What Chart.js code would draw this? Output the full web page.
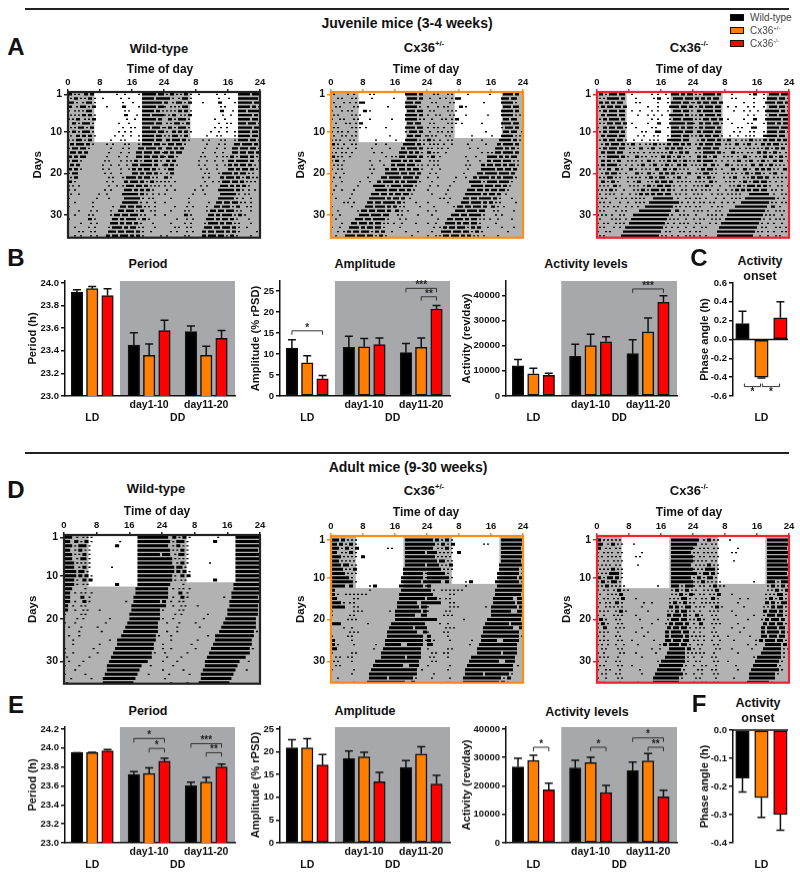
<!DOCTYPE html>
<html>
<head>
<meta charset="utf-8">
<title>Juvenile and adult mice activity</title>
<script src="https://cdn.jsdelivr.net/npm/chart.js@4/dist/chart.umd.min.js"></script>
<style>
  html, body { margin: 0; padding: 0; background: #fff; }
  #page { position: relative; width: 800px; height: 876px; overflow: hidden; font-family: "Liberation Sans", Arial, sans-serif; color: #111; }
  #page canvas { position: absolute; }
  .lbl { position: absolute; transform: translate(-50%, -50%); white-space: nowrap; font-weight: bold; line-height: 1; }
  .rule { position: absolute; left: 25px; width: 764px; height: 2px; background: #222; }
  .swatch { position: absolute; left: 730px; width: 12px; height: 5px; border: 1.5px solid #111; }
  .leg { position: absolute; left: 750px; font-size: 10px; color: #444; line-height: 1; transform: translateY(-50%); }
  sup { font-size: 60%; line-height: 0; }
</style>
</head>
<body>
<div id="page"></div>
<script>
// --- Colours ---
const groupColors = ['#000000', '#ff8000', '#ff0000'];
const ddGray = '#a6a8ab';
const actoGray = '#b2b2b2';

// --- Bar data: LD, DD day1-10, DD day11-20 (WT, het, KO) ---
const periodB = [23.92, 23.95, 23.89, 23.45, 23.36, 23.58, 23.57, 23.36, 23.51];
const periodBErr = [23.94, 23.97, 23.95, 23.56, 23.46, 23.67, 23.62, 23.44, 23.58];
const amplitudeB = [11.4, 7.9, 4.1, 11.6, 11.7, 12.2, 10.3, 11.6, 20.7];
const amplitudeBErr = [13.4, 9.6, 4.9, 14.2, 13.7, 13.8, 12.5, 13.8, 21.5];
const activityB = [12000, 8800, 8200, 15800, 20000, 21500, 16800, 25500, 37200];
const activityBErr = [14500, 11000, 9000, 20500, 24500, 23500, 22300, 31000, 39800];
const onsetC = [0.17, -0.40, 0.23];
const onsetCErr = [0.30, -0.41, 0.40];

const periodE = [23.95, 23.95, 23.97, 23.72, 23.73, 23.86, 23.60, 23.64, 23.80];
const periodEErr = [23.95, 23.955, 23.985, 23.75, 23.79, 23.89, 23.64, 23.69, 23.83];
const amplitudeE = [20.9, 20.9, 17.1, 18.5, 18.9, 13.4, 16.5, 19.5, 12.9];
const amplitudeEErr = [22.7, 22.9, 19.4, 20.2, 19.9, 15.5, 18.1, 21.1, 14.8];
const activityE = [26700, 29000, 18600, 26300, 28200, 17700, 25400, 28800, 16200];
const activityEErr = [29700, 30800, 21000, 29000, 30100, 20200, 28400, 31400, 18500];
const onsetF = [-0.17, -0.24, -0.30];
const onsetFErr = [-0.22, -0.31, -0.355];

// --- Significance brackets: first bar, last bar, height, stars ---
const amplitudeBBrackets = [[0, 2, 15.5, '*'], [6, 8, 25.6, '***'], [7, 8, 23.6, '**']];
const activityBBrackets = [[6, 8, 42500, '***']];
const onsetCBrackets = [[0.1, 0.95, -0.5, '*'], [1.05, 1.95, -0.5, '*']];
const periodEBrackets = [[3, 5, 24.1, '*'], [4, 5, 23.995, '*'], [6, 8, 24.045, '***'], [7, 8, 23.95, '**']];
const activityEBrackets = [[1, 2, 33600, '*'], [4, 5, 33600, '*'], [6, 8, 36900, '*'], [7, 8, 33600, '**']];

// --- Axis ticks ---
const groupTicks = [['', 'LD'], ['day1-10', ''], ['', 'DD'], ['day11-20', '']];
const singleTicks = [['', 'LD']];
const dayTicks = [1, 10, 20, 30];
const periodBTicks = [23.0, 23.2, 23.4, 23.6, 23.8, 24.0];
const periodETicks = [23.0, 23.2, 23.4, 23.6, 23.8, 24.0, 24.2];
const amplitudeTicks = [0, 5, 10, 15, 20, 25];
const activityTicks = [0, 10000, 20000, 30000, 40000];
const onsetCTicks = [-0.6, -0.4, -0.2, 0.0, 0.2, 0.4, 0.6];
const onsetFTicks = [-0.4, -0.3, -0.2, -0.1, 0.0];

// --- Actograms: one string per day, one character per half hour, # = wheel running ---
const actoA1 = [
  '##.#.#.. ##.##... ........ #...#... ...#.### ####.###',
  '.#.##.#. #.##.#.. .#...... ..#...#. .....### ###.####',
  '###.#..# .###.#.. ........ ...#.... #....### #######.',
  '##..#.## #.#.##.. ...#.... ...##... ...#.### ####.###',
  '#..#.#.# .###.... ........ ....#.#. .....### ###.##.#',
  '.#.#.#.# #.##.#.. ........ ....##.. ..#..### #.######',
  '#.#.##.. #.#.##.. ........ .....#.. .#...### ####.##.',
  '..##.#.# ###.#... ........ .#....#. .....### ###.###.',
  '.#.#.### .#.##... ........ ...#...# .#...### #.####.#',
  '#.##.#.# ###.#... ........ .#..#..# .....### ####.###',
  '.#..##.# #.##.#.. .......# ...#...# ...#.### ###.###.',
  '#.#.###. #.##.... .....#.. ..#.#... ...#.### ###.###.',
  '.##.#### .##.#... ...#..#. ....#.#. ...#.### ##.###.#',
  '#.###.## #.#..... .....#.. ...#..#. ...###.# ####.##.',
  '.###.##. ##...... ....#... ..#...#. ..###.## ##.###.#',
  '##.##.## #....... ...#.... .#...#.. ..###.## #.###.##',
  '#.###.#. ........ ..#.#... ..#..#.# .##.#.## ##.##.#.',
  '.##.##.. ........ .#...#.. .#...#.. ###.#### ##.##..#',
  '##.##.#. ........ .#..#... ..#...#. ##.##.## #.##.#..',
  '#.###... ........ ..#..#.. ..#..... ###.##.# ##.##.#.',
  '.#.##... ........ ....#.#. ...#.### ##.##.## #.#.#...',
  '##.#.... ........ ...#..#. ....##.# ###.##.# .##.#.#.',
  '#.#..#.. ........ ....#... #..#.### #.###.## .#.#.#..',
  '#..#.... ........ ..#..#.. ....#### .##.##.# #.#.....',
  '.#...#.. .......# ...#.... ...##### ###.##.# ..#..#..',
  '#....... ......#. ....#... ....#### ####.#.. #.#.....',
  '...#.... ....#... ........ ...##### ###.#..# ...#....',
  '#....... ....#... ......#. ..###.## #.###.#. #..#....',
  '.....#.. ...#..#. .....#.. .###.### #.#.##.. .#.#....',
  '...#.... ..#.#... .....#.# ##.###.# ###.#.#. ...#....',
  '#....... ..##.#.. ......## #.##.### ##.#.##. #.......',
  '......#. ...#..#. .....### #.##.### .##.#... ..#.....',
  '...#.... ..#..#.. ....#.## ###.##.# ##.#.#.. ...#....',
  '.....#.# ...#.#.. ....#### .###.### #.##.#.. .#......',
  '...#..#. ...#..#. ...##.## #.####.# #.##.#.. ......#.',
  '.#...... ..#.#... ...##.## ##.###.# .##.#... ...#....',
];
const actoA2 = [
  '.#...... #..#.... ...#.#.. ........ .....### ###.##..',
  '...#.#.. ..#.#... ....#... .......# ......## ###.##..',
  '.#....#. .#..#.## #....... ........ .....### #.###...',
  '..#.#... ...#.#.. ........ ....#... .....### ###.#...',
  '#....#.. #.#..... ##.#.... ........ ......## ##.###..',
  '.#.#.... ..#.#.#. ........ ........ .....### ###.##..',
  '#...#.#. ...#.#.. ...#.... ......#. .....### ###.#.#.',
  '..#....# .#..#.## ........ ........ ......## #.###...',
  '.#.#.... ..#.#.#. .#...... ...#.... .....### ##.###..',
  '#..#.#.. #...#... ........ ........ .....#.# ###.##..',
  '.#...#.# ..#.#... ........ .....#.. ......## #.###..#',
  '#.#.#... .#.#.... ......#. ........ #....### ###.#.#.',
  '##.#..#. ..#.#... ......#. ...#.... ....#### ##.##.#.',
  '.#.#.#.. #...#... ....#... .....#.. ...##.## ###.##..',
  '#.#..#.# ..#..... .....#.. .#...... ..####.# #.##.#..',
  '##.#.#.. .#...... ........ ...#..#. #.###.## ###.##..',
  '#.##..#. ........ ...#.... #.....## ###.##.# #.###...',
  '.#.#.#.. ........ ....#... ..#...## .####.## ##.#.#..',
  '#..#.#.. ........ ...#.#.. ...##.## #.###.## .###.#..',
  '..#...#. ........ ....#... ...##### ##.###.# ##.##...',
  '.#..#... ........ ..#..... .###.### ###.#### #.##....',
  '#....#.. ......#. ...#...# #.#####. ##.##.## ###.#...',
  '..#..... .....#.. .....### ###.#.## ###.#### #.#.....',
  '.#...#.. ...#.... ......## ####.### #.###.## .#......',
  '#....... ..#..... ....#### .###.##. ###.###. #.......',
  '..#..... .#...... ...##### ###.##.# ##.##..# ........',
  '......#. #..#.... ..###.## #.###### .##.#... ..#.....',
  '#....... ..#..... .####.## ###.##.# #.#.#... ....#...',
  '...#.... .....#.# ##.###.# ###.##.. ##.#..#. ........',
  '#...#... ......## ###.#### #.###... .#.#.... ...#....',
  '..#..... ....#### .###.### ###.#... ..#..#.. ........',
  '.....#.. ..###.## ##.##.## #.#.#..# ...#.... ..#.....',
  '#...#... .#####.# #.###.## #.#..... ..#..... ........',
  '...#..#. ##.###.# ###.#.## .##...#. .....#.. ...#....',
  '..#....# ####.### #.###.#. ##.#.... ........ #.......',
  '#...#.#. ###.#### .##.##.# .#..#... ...#.... ........',
];
const actoA3 = [
  '.##.#.## ##.###.. .#...... ...#..#. ..#..### #.##.###',
  '.#.#.### ###.##.. ...#.... ....#.## ...#..## ###.####',
  '.##.##.# #.###... ...#.#.. ......#. ...#.### ##.###.#',
  '#.##.### .###.##. ........ .#....#. ....#### #.###.##',
  '.#.##.## ##.###.. .#...#.. ...#..#. ...#..## ##.###.#',
  '..##.### ##.###.. ....#... .#..#... #...#### ###.##.#',
  '.#.##.## ###.##.. ........ ...#..#. ....#.## ##.#####',
  '.#.#.### .###.##. .#...... .#....## ....#### ####.###',
  '#..##.## #.###.#. ...#.... ...#.#.. ...#.### #.##.###',
  '.#.##.## ###.##.. ......#. #....### .....### ###.####',
  '..##.### ##.###.. ....#..# ....#.#. ...#.### ##.###.#',
  '.#.##.## #.###.#. ..#...#. ..#.#.#. ...##### ##.###..',
  '..#.##.# ###.##.# .##..#.. #.#.##.# .#.##.## #.##.##.',
  '.#.##.## ##.###.. #.#..##. .#.##..# ..##.##. ###.#.#.',
  '..##.### #.###... #.#.#..# ..#.#.#. #.#.##.# .##.##..',
  '.#.#.### ###.##.# ...##.#. #..#.#.. ##.##.#. ##.#..#.',
  '..##.##. #.##...# .#.#..#. .##.#..# .#.##.## .#.##.#.',
  '#.##.### ##.#..#. .#..#.## ..#.##.. #.##.#.. ##.##..#',
  '.#.#.##. .##.#... ##.#..#. #.#..##. .##.#.## .#.#.#..',
  '..#.##.# ##.#..#. ...##.#. .##.#..# #.##.##. #.#..##.',
  '.#.#.### .#.#...# .#.#.#.. #.##.#.# ##.#..#. ##..#...',
  '..##.#.# #.#....# ..#.##.. .#.#.##. ###.##.. #.#.#.#.',
  '.#.#.#.. ##.#.... #.#.#..# .##.#.## #.###.#. .#..#...',
  '#.#.#.## .#...#.. ..#.#.## .#.####. ##.##.#. ..#.#..#',
  '.#..#.#. #...#... #..#.##. ##.##.## #.###..# .#..#...',
  '#.#.#... .#..#.#. .#.#.#.# ....#### ######.. #...#.#.',
  '.#.#..#. ...#...# ...#.#.# ..###### ######## #.#..#..',
  '#..#.#.. #.#...#. .#..#... ######## ######.# .#..#.#.',
  '.#.#.... .#..#.#. .....### ######## #####..# #..#....',
  '#.#.#..# ...#.#.. ..###### ######## ####.#.. .#.#.#..',
  '.#.....# .#.#..#. .####### ######## ###.#.#. #...#...',
  '#..#.#.. .#.#.#.. ######## ######## ##.#..#. .#.#.#..',
  '.#.#.... #..#..## ######## ######## #.#..#.. #...#...',
  '#...#.#. .....### ######## ######## ..#.#... .#.#..#.',
  '.#.#.... ....#### ######## #######. #.#..#.. #...#.#.',
  '#..#..#. ....#### ######## ######.. .#...#.. .#.#....',
];
const actoD1 = [
  '####..#. .#.#.#.. ........ ........ ....#### ########',
  '###..##. #.##.#.. ........ ...#.... ....#### ########',
  '####.#.# ###.#... ........ .##..... ....#### ########',
  '###..#.# #.#.#... ........ ........ ....#### ########',
  '####.#.# .##.#... ........ ........ ....#### #######.',
  '####..#. ###.#... ........ ........ ....#### ########',
  '#####.#. #.#.#... ........ ........ ....#### ########',
  '#####..# .##.#... .......# ........ ....#### ########',
  '######.# ##.#.... ........ ........ ....#### ########',
  '######.# #.##.#.. ........ ........ ....#### ########',
  '#####.#. .##.##.. ........ ........ ....#### ########',
  '#####.#. .#.#.... ........ .##..... ....#### ########',
  '####.... ..#..... ........ ........ ...##### ########',
  '###..#.. #.#..#.. ........ ........ ...##### ########',
  '###..... ##..#... ........ ........ ..###### ########',
  '###..#.. .##.#... ........ ......#. ..###### #######.',
  '##..#... #.#..... ........ ........ .####### ########',
  '##...#.. .#.#.... .#...... ........ .####### #######.',
  '#....... #.#..... ........ ........ ######## #######.',
  '......#. .#...... ......#. ........ ######## #######.',
  '#....#.. ........ ....#... .......# ######## ######..',
  '..#..... #....... #....... ......## ######## ######..',
  '.......# ........ ..#..... .....### ######## ######..',
  '..#....# ........ ........ ....#### ######## #####.#.',
  '....#... ........ ......#. ..###### ######## #####...',
  '....#... ........ .#...... ..###### ######## ####....',
  '#....... ......#. ........ .####### ######## ####....',
  '#...#... ........ #....... ######## ######## ###.#...',
  '.#...... ....#... .......# ######## ######## ###.....',
  '..#..... .#...... ......## ######## ######## #.......',
  '#......# ........ .....### ######## ######.. ..#.....',
  '.....#.. ........ .....### ######## #####... ........',
  '#....... ..#..... ....#### ######## ####.... .#......',
  '...#.... .....#.. ...##### ######## ###..... ........',
  '.#...... ........ ...##### ######## ##...... ........',
  '....#... ....#... ..###### ######## #....... ........',
];
const actoD2 = [
  '####.##. #.#.#... ........ ........ .....### ########',
  '###.##.# .##.#... ........ ........ .....### ########',
  '####.#.# #.#.##.. ........ ....#.#. .....### ########',
  '###..#.# .##.#... ........ ........ .....### #######.',
  '#####.#. #.#.#..# #....... ........ .....### ########',
  '####.#.# .#.#.... ........ ........ .....### ########',
  '#####.## #.#.#... ........ ........ .....### #######.',
  '######.# .#.##... ........ ........ ....#### ########',
  '#######. #.#.#... ........ ........ ....#### ######.#',
  '######## #.#..... ........ ........ ...##### ######.#',
  '######## ###.#... ........ ........ ...##### #####.##',
  '#######. .##..... ...#.##. ........ ..###### ######.#',
  '##...... ........ ...#.... ........ ...##### ########',
  '##.#...# .#.#.#.# .#...... ........ ..###### ########',
  '###..... ...#.#.. ........ ........ ..###### #######.',
  '#####.#. .#.#.... ........ ........ .####### ###..###',
  '#######. ...#.#.. ........ ........ .####### ####.###',
  '#....... ...#.#.# ........ .....#.. ######## #####.##',
  '#....... .#.#.... ........ ........ ######## ##...###',
  '........ #.#.#... ........ ........ ######## ########',
  '#####... ........ ..#..... ......## ######## #######.',
  '......#. ..#..... ........ .....### ######## #.######',
  '........ .#.#.#.. ........ ....#### ######## ###...##',
  '#....... #.#..... ........ ....#### ######## ######..',
  '##...... ..#..... ........ ...##### ######## ######.#',
  '##.#.... ...#.... ......#. ...##### ###...## ######..',
  '###..... ........ .....#.. ..###### ######## #####...',
  '#....... ..#.#... ........ .####### ######## #####...',
  '..#.#... #.#..... ........ .####### #####.## #####...',
  '.#.#.... ..#..... ......## ######## ######## ####....',
  '..#.#... ........ .....### ######## ####...# ####....',
  '#....... ...#.... ....#### ######## ######## ###..#..',
  '........ ..#..... ...##### ######## ######## ###.....',
  '...#.... ........ ...##### ####.### ######## #.#.....',
  '..#..... ...#.... ..###### ######## #####.#. ##......',
  '........ ..#..... ..###### ######## ####.##. #.......',
];
const actoD3 = [
  '##.#.#.# .#.#.... ........ ........ .....### ########',
  '###..#.# #.#.#... ..#..... ........ .....### ########',
  '##..#.#. .#.#.... ........ ........ .....### ########',
  '#..#.#.# ..#.#... ......#. ........ .....### #######.',
  '#.#..#.# .#.#.... ...#.#.. ........ .....### ########',
  '#..#.#.. #.#.#... ........ ........ .....### ########',
  '#.#.#.#. .#.#.... ....#... ........ .....### #######.',
  '.#.#.#.# #.#.#... ........ ........ .....### ########',
  '#.#.#.## ###.#... ........ ........ .....### ########',
  '##.#.### .##.#... ........ ........ .....### #######.',
  '#.##.#.# ##.#.... ........ ........ .....### ########',
  '#.#.##.# .#.#.#.. ........ ......#. .....### #.#.####',
  '#..#.#.. #.##.#.# ........ ........ .....#.# #.#.##.#',
  '.#...#.# .#.##... ........ ........ .....#.# .##.#.##',
  '#..#.#.. #.#.##.. ...#.... ........ ....#.#. #.###.#.',
  '.#..#.#. .##.#... .......# ...#.... ....#.## .#.##.#.',
  '#...#.#. #.#.#... ......#. ........ ....##.# #.#.###.',
  '.#.#.#.. .#.##.#. ........ .#...... ...#.#.# #.###.#.',
  '#..#.... #.#.#... ...#.... ........ ...##.## ##.##.#.',
  '.##.#... .#.#.... .....#.. ......#. ...#.### #.###.#.',
  '#.##.#.. ..#.#... ........ ...#.... ..#.##.# ###.##..',
  '#..##... .#.#.#.. ......#. ........ ...##.## #.###.#.',
  '.#.#.#.. ..#..... ...#.... .#...... ..##.### ##.###..',
  '#..#.... .#.#.... .......# ........ ..##.### ###.##.#',
  '.#.#.#.. ..#.#... .#...... ....#... ..###.## ##.###..',
  '#.#..#.. .#...#.. ....#... .......# .##.#### #.###.#.',
  '..#.#... ..#.#... ........ ...#...# ....#### ####.##.',
  '#..#.... ...#.#.. ...#.... .....#.. ...##### ####.#.#',
  '.#.#.#.. ..#..... ......#. ........ ..###### ####.#..',
  '#...#... .#.#.... ........ ......#. ######## ####.#..',
  '.#.#.... ..#.#... .#...... .......# ######## ###.#...',
  '#...#.#. ...#.... .....#.. ......## ######## ##.#....',
  '..#.#... .#.#.... ......#. .....### ######## ###.#...',
  '#...#... ..#.#... ........ ....#### ######## #.#.....',
  '.#.#.... ...#.... ....#... ....#### ######## #.......',
  '#...#.#. ..#.#... ........ ...##### ######.# ........',
];

// --- Layout ---
const page = document.getElementById('page');
const barSlots = [0, 1, 2, 3.72, 4.72, 5.72, 7.45, 8.45, 9.45];
const groupTickSlots = [1, 4.72, 6.585, 8.45];
const threeSlots = [0, 1, 2];
const oneTickSlot = [1];
const fontFamily = '"Liberation Sans", Arial, sans-serif';

Chart.defaults.font.family = fontFamily;
Chart.defaults.animation = false;
Chart.defaults.devicePixelRatio = 1;

function addCanvas(left, top, width, height) {
  const canvas = document.createElement('canvas');
  canvas.width = width;
  canvas.height = height;
  canvas.style.left = `${left}px`;
  canvas.style.top = `${top}px`;
  canvas.style.width = `${width}px`;
  canvas.style.height = `${height}px`;
  page.appendChild(canvas);
  return canvas;
}

function addLabel(html, x, y, size) {
  const el = document.createElement('div');
  el.className = 'lbl';
  el.style.left = `${x}px`;
  el.style.top = `${y}px`;
  el.style.fontSize = `${size}px`;
  el.innerHTML = html;
  page.appendChild(el);
}

// --- Bar panel ---
function drawBarPanel(cfg) {
  const { x, y, w, h, marginLeft, values, errors, slots, tickSlots, tickLabels } = cfg;
  const marginTop = 8; // has to beat half a tick label, or the layout takes that instead
  const marginRight = 4;
  const marginBottom = 32;

  const extras = {
    id: 'extras',
    beforeDraw(chart) {
      if (cfg.bandFrom === undefined) return;
      const { ctx, chartArea, scales } = chart;
      const left = scales.x.getPixelForValue(cfg.bandFrom);
      ctx.save();
      ctx.fillStyle = ddGray;
      ctx.fillRect(left, chartArea.top, chartArea.right - left, chartArea.bottom - chartArea.top);
      ctx.restore();
    },
    afterDatasetsDraw(chart) {
      const { ctx, chartArea, scales } = chart;
      ctx.save();
      ctx.strokeStyle = '#111';
      ctx.lineWidth = 1.5;

      // zero line for the phase angle panels
      if (cfg.yMin < 0) {
        const zero = scales.y.getPixelForValue(0);
        ctx.beginPath();
        ctx.moveTo(chartArea.left, zero);
        ctx.lineTo(chartArea.right, zero);
        ctx.stroke();
      }

      // error bars
      errors.forEach((err, i) => {
        const px = scales.x.getPixelForValue(slots[i]);
        const from = scales.y.getPixelForValue(values[i]);
        const to = scales.y.getPixelForValue(err);
        ctx.beginPath();
        ctx.moveTo(px, from);
        ctx.lineTo(px, to);
        ctx.moveTo(px - 4, to);
        ctx.lineTo(px + 4, to);
        ctx.stroke();
      });

      // significance brackets
      ctx.strokeStyle = '#333';
      ctx.lineWidth = 1;
      ctx.fillStyle = '#222';
      ctx.font = `bold 10px ${fontFamily}`;
      ctx.textAlign = 'center';
      ctx.textBaseline = 'middle';
      (cfg.brackets || []).forEach(([a, b, val, stars]) => {
        const slotA = Number.isInteger(a) ? slots[a] : a;
        const slotB = Number.isInteger(b) ? slots[b] : b;
        const x1 = scales.x.getPixelForValue(slotA);
        const x2 = scales.x.getPixelForValue(slotB);
        const py = scales.y.getPixelForValue(val);
        const leg = cfg.legsUp ? -3 : 4;
        ctx.beginPath();
        ctx.moveTo(x1, py + leg);
        ctx.lineTo(x1, py);
        ctx.lineTo(x2, py);
        ctx.lineTo(x2, py + leg);
        ctx.stroke();
        ctx.fillText(stars, (x1 + x2) / 2, cfg.legsUp ? py + 6 : py - 3);
      });
      ctx.restore();
    },
  };

  const canvas = addCanvas(x - marginLeft, y - marginTop, marginLeft + w + marginRight, marginTop + h + marginBottom);
  new Chart(canvas, {
    type: 'bar',
    data: {
      datasets: [{
        data: values.map((v, i) => ({ x: slots[i], y: v })),
        backgroundColor: values.map((v, i) => groupColors[i % 3]),
        borderColor: '#111',
        borderWidth: 1.5,
        borderSkipped: false,
        barThickness: cfg.barWidth,
      }],
    },
    plugins: [extras],
    options: {
      responsive: false,
      layout: { autoPadding: false, padding: { top: marginTop, right: marginRight } },
      plugins: { legend: { display: false }, tooltip: { enabled: false } },
      scales: {
        x: {
          type: 'linear',
          offset: false,
          min: cfg.xMin,
          max: cfg.xMax,
          grid: { display: false, drawTicks: false },
          border: { display: cfg.yMin >= 0, color: '#111', width: 1.5 },
          afterBuildTicks(axis) { axis.ticks = tickSlots.map(value => ({ value })); },
          afterFit(axis) { axis.height = marginBottom; },
          ticks: {
            autoSkip: false,
            maxRotation: 0,
            padding: 3,
            color: '#111',
            font: { size: 10.5, weight: 'bold', lineHeight: 1.2 },
            callback: (v, i) => tickLabels[i],
          },
        },
        y: {
          min: cfg.yMin,
          max: cfg.yMax,
          grid: { drawOnChartArea: false, tickLength: 4, color: '#111', lineWidth: 1.5 },
          border: { color: '#111', width: 1.5 },
          afterBuildTicks(axis) { axis.ticks = cfg.yTicks.map(value => ({ value })); },
          afterFit(axis) { axis.width = marginLeft; },
          title: {
            display: true,
            text: cfg.yTitle,
            color: '#111',
            padding: 0,
            font: { size: 11.2, weight: 'bold' },
          },
          ticks: {
            autoSkip: false,
            padding: 2,
            color: '#111',
            font: { size: 9.5, weight: 'bold' },
            callback: v => v.toFixed(cfg.decimals),
          },
        },
      },
    },
  });
}

// --- Actogram panel ---
// Runs of one half hour go to `dots` (drawn thin), longer runs go to `bouts`
function collectRuns(days, row, bouts, dots) {
  [0, 1].forEach(half => {
    const day = (days[row - 1 + half] || '').replace(/ /g, '');
    let start = -1;
    for (let c = 0; c <= day.length; c++) {
      const on = day[c] === '#';
      if (on && start < 0) start = c;
      if (!on && start >= 0) {
        const target = c - start === 1 ? dots : bouts;
        target.push({ x: half * 24 + start / 2, y: row }, { x: half * 24 + c / 2, y: row }, { x: null, y: null });
        start = -1;
      }
    }
  });
}

function drawActogram(cfg) {
  const { x, y, w, h, days, frame, marginLeft } = cfg;
  const marginTop = 20;
  const marginRight = 9;
  const marginBottom = 8;
  const rows = days.length - 1;
  const bouts = [];
  const dots = [];
  for (let r = 1; r <= rows; r++) collectRuns(days, r, bouts, dots);

  const background = {
    id: 'background',
    beforeDraw(chart) {
      const { ctx, chartArea, scales } = chart;
      ctx.save();
      ctx.fillStyle = actoGray;
      ctx.fillRect(chartArea.left, chartArea.top, chartArea.right - chartArea.left, chartArea.bottom - chartArea.top);
      ctx.fillStyle = '#fff';
      const top = chartArea.top;
      [[cfg.lightOn, cfg.lightOff, 12.5], [cfg.lightOn + 24, cfg.lightOff + 24, 11.5]].forEach(([a, b, lastDay]) => {
        const x1 = scales.x.getPixelForValue(a);
        const x2 = scales.x.getPixelForValue(b);
        ctx.fillRect(x1, top, x2 - x1, scales.y.getPixelForValue(lastDay) - top);
      });
      ctx.restore();
    },
    afterDatasetsDraw(chart) {
      const { ctx, chartArea } = chart;
      ctx.save();
      ctx.strokeStyle = frame;
      ctx.lineWidth = 2.2;
      ctx.strokeRect(chartArea.left, chartArea.top, chartArea.right - chartArea.left, chartArea.bottom - chartArea.top);
      ctx.restore();
    },
  };

  const lineStyle = { showLine: true, spanGaps: false, borderColor: '#000', borderCapStyle: 'butt', pointRadius: 0, tension: 0 };
  const canvas = addCanvas(x - marginLeft, y - marginTop, marginLeft + w + marginRight, marginTop + h + marginBottom);
  new Chart(canvas, {
    type: 'scatter',
    data: {
      datasets: [
        { ...lineStyle, data: bouts, borderWidth: cfg.stripe },
        { ...lineStyle, data: dots, borderWidth: 1.3 },
      ],
    },
    plugins: [background],
    options: {
      responsive: false,
      layout: { autoPadding: false, padding: { right: marginRight, bottom: marginBottom } },
      plugins: { legend: { display: false }, tooltip: { enabled: false } },
      scales: {
        x: {
          type: 'linear',
          position: 'top',
          min: 0,
          max: 48,
          border: { display: false },
          grid: { drawOnChartArea: false, tickLength: 3, color: frame, lineWidth: 1.5 },
          afterFit(axis) { axis.height = marginTop; },
          ticks: {
            stepSize: 8,
            autoSkip: false,
            maxRotation: 0,
            padding: 1,
            color: '#111',
            font: { size: 9.5, weight: 'bold' },
            callback: v => (v === 0 ? 0 : (v % 24 === 0 ? 24 : v % 24)),
          },
        },
        y: {
          type: 'linear',
          reverse: true,
          min: cfg.dayMin,
          max: cfg.dayMax,
          border: { display: false },
          grid: { drawOnChartArea: false, tickLength: 4, color: frame, lineWidth: 1.5 },
          afterBuildTicks(axis) { axis.ticks = dayTicks.map(value => ({ value })); },
          afterFit(axis) { axis.width = marginLeft; },
          title: {
            display: true,
            text: 'Days',
            color: '#111',
            padding: 0,
            font: { size: 11.5, weight: 'bold' },
          },
          ticks: {
            autoSkip: false,
            padding: 2,
            color: '#111',
            font: { size: 10.5, weight: 'bold' },
          },
        },
      },
    },
  });
}

// --- Panels A and D ---
const blackFrame = '#222222';
const orangeFrame = '#ff8c14';
const redFrame = '#ee2233';
drawActogram({ x: 68, y: 92, w: 192, h: 146, marginLeft: 37, days: actoA1, frame: blackFrame, lightOn: 6.6, lightOff: 18.5, dayMin: 0.45, dayMax: 35.46, stripe: 2.4 });
drawActogram({ x: 331, y: 92, w: 192, h: 146, marginLeft: 37, days: actoA2, frame: orangeFrame, lightOn: 6.9, lightOff: 18.7, dayMin: 0.45, dayMax: 35.46, stripe: 2.4 });
drawActogram({ x: 597, y: 92, w: 192, h: 146, marginLeft: 37, days: actoA3, frame: redFrame, lightOn: 7.4, lightOff: 18.4, dayMin: 0.45, dayMax: 35.46, stripe: 2.4 });
drawActogram({ x: 63.5, y: 535, w: 196.5, h: 149, marginLeft: 38, days: actoD1, frame: blackFrame, lightOn: 6, lightOff: 18, dayMin: 0.46, dayMax: 35.2, stripe: 3 });
drawActogram({ x: 331, y: 535.5, w: 192, h: 147, marginLeft: 37, days: actoD2, frame: orangeFrame, lightOn: 6.2, lightOff: 18.1, dayMin: 0.05, dayMax: 35.1, stripe: 3 });
drawActogram({ x: 597, y: 535.5, w: 192, h: 147, marginLeft: 37, days: actoD3, frame: redFrame, lightOn: 6.2, lightOff: 18.1, dayMin: 0.05, dayMax: 35.1, stripe: 3 });

// --- Panels B, C, E, F ---
const groupedAxis = { slots: barSlots, tickSlots: groupTickSlots, tickLabels: groupTicks, xMin: -0.78, xMax: 10.33, bandFrom: 2.81, barWidth: 11.5 };
const singleAxis = { slots: threeSlots, tickSlots: oneTickSlot, tickLabels: singleTicks, xMin: -0.5, xMax: 2.4, barWidth: 13.5 };

drawBarPanel({ ...groupedAxis, x: 65, y: 280.7, w: 170, h: 115.3, marginLeft: 39, values: periodB, errors: periodBErr, yMin: 23, yMax: 24.018, yTicks: periodBTicks, decimals: 1, yTitle: 'Period (h)' });
drawBarPanel({ ...groupedAxis, x: 280, y: 280.7, w: 170, h: 115.3, marginLeft: 31, values: amplitudeB, errors: amplitudeBErr, yMin: 0, yMax: 27.35, yTicks: amplitudeTicks, decimals: 0, yTitle: 'Amplitude (% rPSD)', brackets: amplitudeBBrackets });
drawBarPanel({ ...groupedAxis, x: 506, y: 280.7, w: 171, h: 115.3, marginLeft: 46, values: activityB, errors: activityBErr, yMin: 0, yMax: 45660, yTicks: activityTicks, decimals: 0, yTitle: 'Activity (rev/day)', brackets: activityBBrackets });
drawBarPanel({ ...singleAxis, x: 733.3, y: 282.7, w: 55, h: 113.3, marginLeft: 35, values: onsetC, errors: onsetCErr, yMin: -0.6, yMax: 0.6, yTicks: onsetCTicks, decimals: 1, yTitle: 'Phase angle (h)', brackets: onsetCBrackets, legsUp: true });

drawBarPanel({ ...groupedAxis, x: 65, y: 727.3, w: 170, h: 115.4, marginLeft: 39, values: periodE, errors: periodEErr, yMin: 23, yMax: 24.22, yTicks: periodETicks, decimals: 1, yTitle: 'Period (h)', brackets: periodEBrackets });
drawBarPanel({ ...groupedAxis, x: 280, y: 727.3, w: 170, h: 115.4, marginLeft: 31, values: amplitudeE, errors: amplitudeEErr, yMin: 0, yMax: 25.44, yTicks: amplitudeTicks, decimals: 0, yTitle: 'Amplitude (% rPSD)' });
drawBarPanel({ ...groupedAxis, x: 506, y: 727.3, w: 171, h: 115.4, marginLeft: 46, values: activityE, errors: activityEErr, yMin: 0, yMax: 40700, yTicks: activityTicks, decimals: 0, yTitle: 'Activity (rev/day)', brackets: activityEBrackets });
drawBarPanel({ ...singleAxis, x: 733.3, y: 730, w: 55, h: 112.7, marginLeft: 35, values: onsetF, errors: onsetFErr, yMin: -0.4, yMax: 0, yTicks: onsetFTicks, decimals: 1, yTitle: 'Phase angle (h)' });

// --- Headings, panel letters, rules, legend ---
[8, 452].forEach(top => {
  const rule = document.createElement('div');
  rule.className = 'rule';
  rule.style.top = `${top}px`;
  page.appendChild(rule);
});

const het = 'Cx36<sup>+/-</sup>';
const ko = 'Cx36<sup>-/-</sup>';
addLabel('Juvenile mice (3-4 weeks)', 407, 23, 14);
addLabel('Adult mice (9-30 weeks)', 408, 467, 14);

[['A', 16, 47], ['B', 16, 258], ['C', 699, 258], ['D', 16, 490], ['E', 16, 705], ['F', 699, 704]]
  .forEach(([t, x, y]) => addLabel(t, x, y, 24));

[['Wild-type', 159, 48], [het, 424, 47], [ko, 689, 47], ['Wild-type', 156, 488], [het, 424, 490], [ko, 689, 490]]
  .forEach(([t, x, y]) => addLabel(t, x, y, 13));

[[160, 68.5], [426, 68.5], [689, 68.5], [157, 511], [426, 512], [689, 512]]
  .forEach(([x, y]) => addLabel('Time of day', x, y, 12));

[['Period', 148, 264], ['Amplitude', 365, 264], ['Activity levels', 586, 264], ['Activity', 760, 260.5], ['onset', 760, 275.5],
  ['Period', 148, 710.5], ['Amplitude', 365, 710.5], ['Activity levels', 587, 711.5], ['Activity', 758, 702.5], ['onset', 758, 717.5]]
  .forEach(([t, x, y]) => addLabel(t, x, y, 12.5));

[['Wild-type', groupColors[0], 18], [het, groupColors[1], 31], [ko, groupColors[2], 44]].forEach(([t, color, y]) => {
  const swatch = document.createElement('div');
  swatch.className = 'swatch';
  swatch.style.top = `${y - 4}px`;
  swatch.style.background = color;
  page.appendChild(swatch);
  const text = document.createElement('div');
  text.className = 'leg';
  text.style.top = `${y}px`;
  text.innerHTML = t;
  page.appendChild(text);
});
</script>
</body>
</html>
